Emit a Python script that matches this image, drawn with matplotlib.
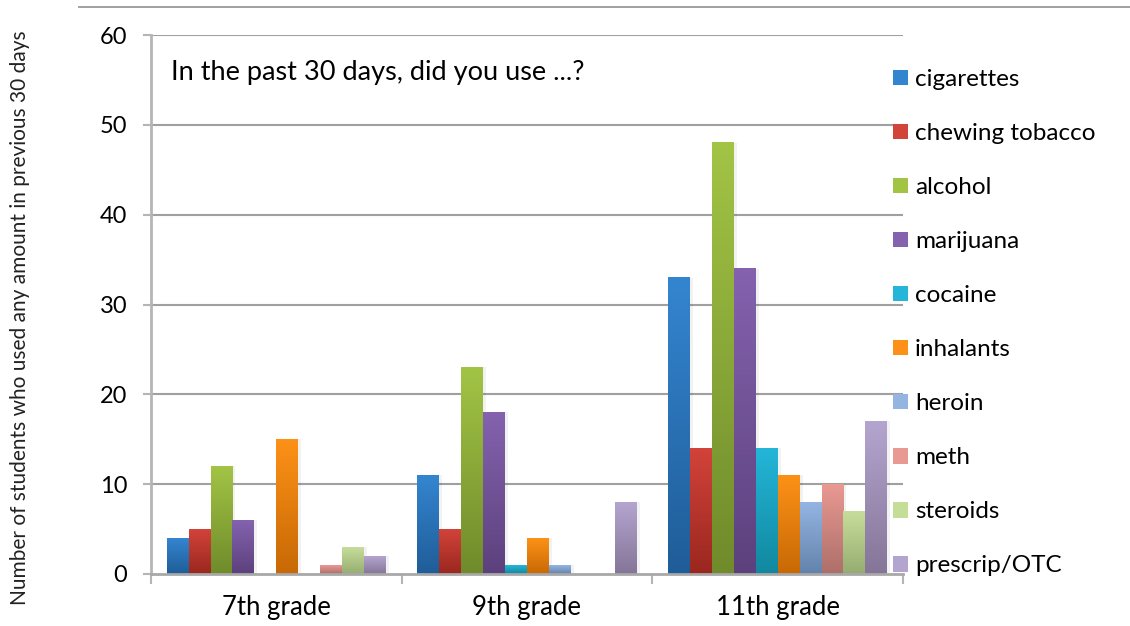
import numpy as np
import matplotlib.pyplot as plt
from matplotlib.colors import LinearSegmentedColormap
from matplotlib.patches import Patch
from matplotlib.lines import Line2D

plt.rcParams['font.family'] = ['Lato', 'DejaVu Sans']

# Data
grades = ['7th grade', '9th grade', '11th grade']
substances = ['cigarettes', 'chewing tobacco', 'alcohol', 'marijuana', 'cocaine',
              'inhalants', 'heroin', 'meth', 'steroids', 'prescrip/OTC']
cigarettes = [4, 11, 33]
chewing_tobacco = [5, 5, 14]
alcohol = [12, 23, 48]
marijuana = [6, 18, 34]
cocaine = [0, 1, 14]
inhalants = [15, 4, 11]
heroin = [0, 1, 8]
meth = [1, 0, 10]
steroids = [3, 0, 7]
prescrip_otc = [2, 8, 17]
values = [cigarettes, chewing_tobacco, alcohol, marijuana, cocaine,
          inhalants, heroin, meth, steroids, prescrip_otc]

# (top colour, bottom colour) for the vertical gradient
colors = [('#3485d0', '#1f5d98'), ('#d2433a', '#9a271f'), ('#a2c445', '#6f8b2b'),
          ('#8462ae', '#5c417d'), ('#24b6d8', '#11889f'), ('#fd9117', '#c76905'),
          ('#94b4e2', '#6483ab'), ('#e89992', '#ae6f6a'), ('#c6dd9a', '#96ad72'),
          ('#b4a5d0', '#857597')]

fig = plt.figure(figsize=(11.3, 6.26), dpi=100)
ax = fig.add_axes([151 / 1130, 52 / 626, 752 / 1130, 539 / 626])

x = np.arange(len(grades))
w = 0.0875
for i, (vals, (top, bot)) in enumerate(zip(values, colors)):
    bars = ax.bar(x + (i - 4.5) * w, vals, w, color=bot, zorder=2, linewidth=0)
    cmap = LinearSegmentedColormap.from_list('g%d' % i, [bot, top])
    for b in bars:
        h = b.get_height()
        if h <= 0:
            continue
        # soft shadow to the right
        ax.bar(b.get_x() + b.get_width(), h, 0.012, align='edge',
               color='#000000', alpha=0.05, zorder=1.5, linewidth=0)
        grad = np.linspace(0, 1, 100).reshape(-1, 1)
        ax.imshow(grad, extent=[b.get_x(), b.get_x() + b.get_width(), 0, h],
                  origin='lower', aspect='auto', cmap=cmap, zorder=2.5)

ax.set_xlim(-0.5, 2.5)
ax.set_ylim(0, 60)

# Axes styling
for s in ['top', 'right']:
    ax.spines[s].set_visible(False)
ax.spines['left'].set_color('#b5b5b5')
ax.spines['left'].set_linewidth(2)
ax.spines['bottom'].set_color('#a8a8a8')
ax.spines['bottom'].set_linewidth(2)

ax.set_yticks(range(0, 61, 10))
ax.tick_params(axis='y', length=6, width=1.5, color='#b5b5b5', pad=11, labelsize=17)
for yv in range(10, 61, 10):
    ax.axhline(yv, color='#a0a0a0', lw=1.5, zorder=1)

ax.set_xticks([-0.5, 0.5, 1.5, 2.5])
ax.set_xticklabels([])
ax.tick_params(axis='x', which='major', length=7, width=1.5, color='#b5b5b5')
ax.set_xticks(x, minor=True)
ax.set_xticklabels(grades, minor=True)
ax.tick_params(axis='x', which='minor', length=0, pad=15, labelsize=18.5)

ax.text(0.027, 0.93, 'In the past 30 days, did you use ...?', transform=ax.transAxes,
        fontsize=19.5, va='center', ha='left')

fig.text(20 / 1130, 1 - 318 / 626,
         'Number of students who used any amount in previous 30 days',
         rotation=90, ha='center', va='center', fontsize=15, color='#222222')

# Line at top of the slide
fig.add_artist(Line2D([79 / 1130, 1.0], [1 - 7 / 626, 1 - 7 / 626],
                      color='#999999', lw=1.3))

# Legend
handles = [Patch(facecolor=c[0], edgecolor='none') for c in colors]
fig.legend(handles, substances, loc='upper left', bbox_to_anchor=(893 / 1130, 1 - 69 / 626),
           frameon=False, fontsize=17.5, handlelength=0.6, handleheight=0.6,
           handletextpad=0.3, labelspacing=1.36, borderpad=0, borderaxespad=0)

fig.savefig('out.png', dpi=100)
